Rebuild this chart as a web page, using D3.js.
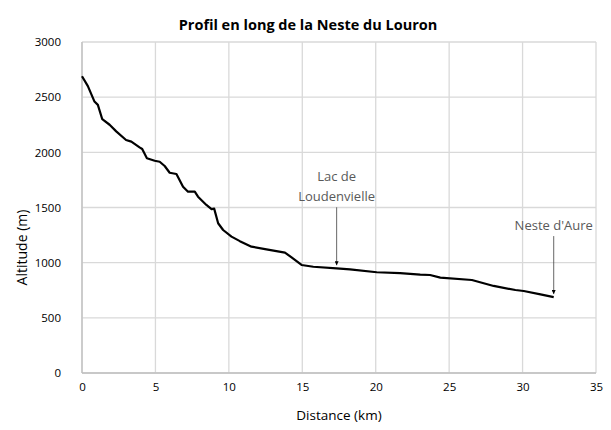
<!DOCTYPE html>
<html>
<head>
<meta charset="utf-8">
<script src="https://cdn.jsdelivr.net/npm/d3@7"></script>
<style>
  body { margin: 0; background: #fff; }
  svg { font-family: "Open Sans", sans-serif; }
</style>
</head>
<body>
<svg id="chart" width="611" height="430"></svg>
<script>
'use strict';

// profile: distance (km) and altitude (m)
const distance = [0, 0.4, 0.85, 1.08, 1.38, 1.88, 2.33, 3.0, 3.36, 3.92, 4.1, 4.42, 4.95, 5.29,
  5.63, 5.97, 6.43, 6.88, 7.22, 7.68, 7.9, 8.47, 8.82, 9.0, 9.27, 9.61, 10.18, 10.75, 11.54,
  12.56, 13.82, 14.27, 14.95, 15.75, 17.34, 18.25, 20.07, 21.66, 23.03, 23.7, 24.4, 26.55,
  28.03, 29.51, 30.08, 31.22, 32.12];
const altitude = [2690, 2600, 2460, 2430, 2300, 2250, 2190, 2112, 2097, 2045, 2030, 1946, 1924, 1915,
  1876, 1815, 1804, 1689, 1643, 1643, 1598, 1523, 1486, 1490, 1357, 1296, 1236, 1195, 1145,
  1121, 1091, 1048, 979, 963, 949, 940, 913, 906, 892, 888, 864, 843,
  789, 752, 743, 713, 688];

const xTicks = [0, 5, 10, 15, 20, 25, 30, 35];
const yTicks = [0, 500, 1000, 1500, 2000, 2500, 3000];

const notes = [
  { lines: ['Lac de', 'Loudenvielle'], km: 17.34, alt: 949 },
  { lines: ["Neste d'Aure"], km: 32.12, alt: 688 }
];

const gridColour = '#d9d9d9';
const textColour = '#595959';

const svg = d3.select('#chart');
const margin = { top: 42, right: 15, bottom: 57, left: 82 };
const width = 611 - margin.left - margin.right;
const height = 430 - margin.top - margin.bottom;

const x = d3.scaleLinear().domain([0, 35]).range([0, width]);
const y = d3.scaleLinear().domain([0, 3000]).range([height, 0]);

const g = svg.append('g').attr('transform', `translate(${margin.left},${margin.top})`);

// gridlines
g.append('g')
  .selectAll('line')
  .data(yTicks)
  .join('line')
  .attr('x1', 0).attr('x2', width)
  .attr('y1', d => y(d)).attr('y2', d => y(d))
  .attr('stroke', gridColour).attr('stroke-width', 1.3);

g.append('g')
  .selectAll('line')
  .data(xTicks)
  .join('line')
  .attr('x1', d => x(d)).attr('x2', d => x(d))
  .attr('y1', 0).attr('y2', height)
  .attr('stroke', gridColour).attr('stroke-width', 1.3);

// axes (labels only)
const xAxis = g.append('g')
  .attr('transform', `translate(0,${height})`)
  .call(d3.axisBottom(x).tickValues(xTicks).tickFormat(d3.format('d')).tickSize(0).tickPadding(10));
const yAxis = g.append('g')
  .call(d3.axisLeft(y).tickValues(yTicks).tickFormat(d3.format('d')).tickSize(0).tickPadding(21));
[xAxis, yAxis].forEach(a => {
  a.select('.domain').remove();
  a.selectAll('text')
    .attr('font-family', '"Open Sans", sans-serif')
    .attr('font-size', 11.5)
    .attr('fill', '#000');
});
g.append('line')
  .attr('x1', 0).attr('x2', width)
  .attr('y1', height).attr('y2', height)
  .attr('stroke', '#bfbfbf').attr('stroke-width', 1.3);
g.append('line')
  .attr('x1', 0).attr('x2', 0)
  .attr('y1', 0).attr('y2', height)
  .attr('stroke', '#bfbfbf').attr('stroke-width', 1.3);

// profile line
const points = distance.map((d, i) => [d, altitude[i]]);
g.append('path')
  .datum(points)
  .attr('fill', 'none')
  .attr('stroke', '#000')
  .attr('stroke-width', 2.2)
  .attr('stroke-linejoin', 'round')
  .attr('d', d3.line().x(d => x(d[0])).y(d => y(d[1])));

// annotations
const defs = svg.append('defs');
defs.append('marker')
  .attr('id', 'arrow')
  .attr('viewBox', '0 0 10 10')
  .attr('refX', 10).attr('refY', 5)
  .attr('markerWidth', 5).attr('markerHeight', 5)
  .attr('orient', 'auto')
  .append('path')
  .attr('d', 'M0,0L10,5L0,10Z')
  .attr('fill', '#000');

notes.forEach(n => {
  const px = x(n.km);
  const py = y(n.alt) - 3;
  const top = py - 58;
  g.append('line')
    .attr('x1', px).attr('x2', px)
    .attr('y1', top).attr('y2', py)
    .attr('stroke', '#404040').attr('stroke-width', 0.8)
    .attr('marker-end', 'url(#arrow)');
  const t = g.append('text')
    .attr('text-anchor', 'middle')
    .attr('font-size', 13)
    .attr('fill', textColour);
  n.lines.forEach((line, i) => {
    t.append('tspan')
      .attr('x', px)
      .attr('y', top - 6 - (n.lines.length - 1 - i) * 20)
      .text(line);
  });
});

// titles
svg.append('text')
  .attr('x', 308).attr('y', 30)
  .attr('text-anchor', 'middle')
  .attr('font-size', 14.5)
  .attr('font-weight', 'bold')
  .text('Profil en long de la Neste du Louron');

svg.append('text')
  .attr('x', margin.left + width / 2).attr('y', 420)
  .attr('text-anchor', 'middle')
  .attr('font-size', 13.5)
  .text('Distance (km)');

svg.append('text')
  .attr('transform', `translate(27,${margin.top + height / 2 + 40}) rotate(-90)`)
  .attr('text-anchor', 'middle')
  .attr('font-size', 14)
  .text('Altitude (m)');
</script>
</body>
</html>
